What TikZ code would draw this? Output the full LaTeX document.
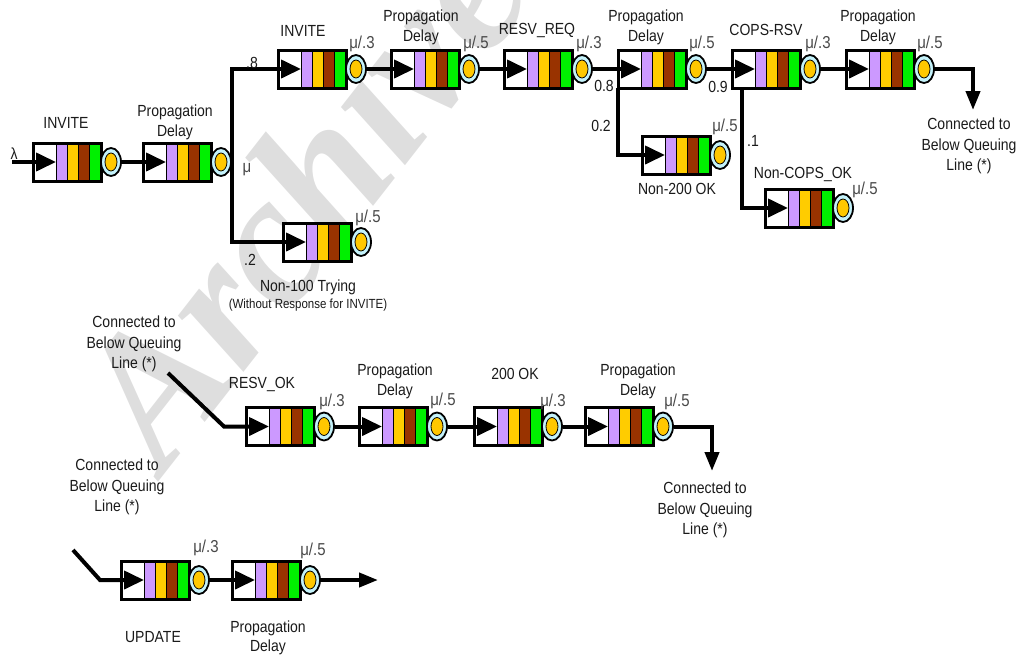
\documentclass[tikz,border=0pt]{standalone}
\usepackage{fontspec}
\setmainfont{Liberation Sans}
\newfontfamily\wmfont{Liberation Serif}
\usetikzlibrary{arrows.meta,shapes.geometric}
\definecolor{qpurple}{HTML}{CC99FF}
\definecolor{qyellow}{HTML}{FFCC00}
\definecolor{qbrown}{HTML}{993300}
\definecolor{qgreen}{HTML}{00F000}
\definecolor{qcyan}{HTML}{C4F2FA}
\definecolor{qorange}{HTML}{FFC800}
\definecolor{wmgray}{HTML}{DEDEDE}
\definecolor{txt}{HTML}{1A1A1A}
\tikzset{
 qbox/.style={draw, line width=3pt, minimum width=68pt, minimum height=38pt, inner sep=0pt, outer sep=0pt, fill=white, anchor=west,
  path picture={
   \fill[qpurple] ([xshift=23pt]path picture bounding box.south west) rectangle ++(11pt,40pt);
   \fill[qyellow] ([xshift=34pt]path picture bounding box.south west) rectangle ++(11pt,40pt);
   \fill[qbrown] ([xshift=45pt]path picture bounding box.south west) rectangle ++(11.5pt,40pt);
   \fill[qgreen] ([xshift=56.5pt]path picture bounding box.south west) rectangle ++(12pt,40pt);
   \foreach \s in {23,34,45,56.5} \draw[line width=0.8pt] ([xshift=\s pt]path picture bounding box.south west) -- ++(0pt,40pt);
  }},
 srv/.style={ellipse, draw, line width=1.8pt, fill=qcyan, minimum width=20pt, minimum height=28pt, inner sep=0pt,
  path picture={\draw[line width=0.8pt, fill=qorange] (path picture bounding box.center) ellipse [x radius=6pt, y radius=9pt];}},
 conn/.style={line width=4pt, -{Triangle[length=20pt,width=18pt]}},
 outc/.style={line width=4pt, -{Triangle[length=19pt,width=14pt]}},
 plain/.style={line width=4pt},
 lbl/.style={font=\fontsize{14}{17}\selectfont, text=txt, align=center, inner sep=0pt, yscale=1.15, transform shape},
 conlbl/.style={font=\fontsize{14}{17.8}\selectfont, text=txt, align=center, inner sep=0pt, yscale=1.15, transform shape},
 mulbl/.style={font=\fontsize{15}{18}\selectfont, text=txt!80, inner sep=0pt, yscale=1.15, transform shape},
 smalltxt/.style={font=\fontsize{11.5}{14}\selectfont, text=txt, inner sep=0pt, yscale=1.15, transform shape},
 wmnode/.style={font={\wmfont\bfseries\itshape\fontsize{188}{190}\selectfont}, text=wmgray, inner sep=0pt},
}
\newcommand\qnode[3]{%
 \node[qbox] (#1) at (#2,#3) {};
 \node[srv] (#1s) at ([xshift=10pt]#1.east) {};
}
\begin{document}
\begin{tikzpicture}[x=1pt,y=-1pt]
\useasboundingbox (0,0) rectangle (1018,654);
% watermark
\node[wmnode, rotate=52, anchor=center] (wm) at (300,196) {Archive};

% queues
\qnode{q1}{33}{162}
\qnode{q2}{143}{162}
\qnode{q3}{278}{69}
\qnode{q4}{391}{69}
\qnode{q5}{504}{69}
\qnode{q6}{618}{69}
\qnode{q7}{642}{155}
\qnode{q8}{732}{69}
\qnode{q9}{846}{69}
\qnode{q10}{765}{208}
\qnode{q11}{283}{242}
\qnode{q12}{246}{426.5}
\qnode{q13}{359}{426.5}
\qnode{q14}{474}{426.5}
\qnode{q15}{585}{426.5}
\qnode{q16}{121}{580}
\qnode{q17}{232}{580}

% connectors
\coordinate (in0) at (12,162);
\draw[conn] (in0) -- ([xshift=23pt]q1.west);
\draw[conn] (q1s.east) -- ([xshift=23pt]q2.west);
\coordinate (j1) at (232,162);
\draw[plain] (q2s.east) -- (j1);
\draw[conn] (j1) |- ([xshift=23pt]q3.west);
\draw[conn] (j1) |- ([xshift=23pt]q11.west);
\draw[conn] (q3s.east) -- ([xshift=23pt]q4.west);
\draw[conn] (q4s.east) -- ([xshift=23pt]q5.west);
\draw[conn] (q5s.east) -- ([xshift=23pt]q6.west);
\draw[conn] (q6.south west) |- ([xshift=23pt]q7.west);
\draw[conn] (q6s.east) -- ([xshift=23pt]q8.west);
\draw[conn] ([xshift=9.5pt]q8.south west) |- ([xshift=23pt]q10.west);
\draw[conn] (q8s.east) -- ([xshift=23pt]q9.west);
\coordinate (out1) at (973,110);
\draw[outc] (q9s.east) -| (out1);

\coordinate (c1) at (168,373);
\coordinate (c1b) at (224,426.5);
\draw[conn] (c1) -- (c1b) -- ([xshift=23pt]q12.west);
\draw[conn] (q12s.east) -- ([xshift=23pt]q13.west);
\draw[conn] (q13s.east) -- ([xshift=23pt]q14.west);
\draw[conn] (q14s.east) -- ([xshift=23pt]q15.west);
\coordinate (out2) at (712,471);
\draw[outc] (q15s.east) -| (out2);

\coordinate (c2) at (73,550);
\coordinate (c2b) at (100,580);
\draw[conn] (c2) -- (c2b) -- ([xshift=23pt]q16.west);
\draw[conn] (q16s.east) -- ([xshift=23pt]q17.west);
\coordinate (out3) at (378,580);
\draw[outc] (q17s.east) -- (out3);

% labels
\node[lbl] (lam) at (14,154) {λ};
\node[lbl] (l1) at (66,123) {INVITE};
\node[lbl] (l2) at (175,122.5) {Propagation\\Delay};
\node[mulbl] (m2) at (247,170) {μ};
\node[lbl] (p8) at (252,63) {.8};
\node[lbl] (l3) at (303,31) {INVITE};
\node[mulbl] (m3) at (362,44) {μ/.3};
\node[lbl] (l4) at (421,27.5) {Propagation\\Delay};
\node[mulbl] (m4) at (476,44) {μ/.5};
\node[lbl] (l5) at (537,30) {RESV\_REQ};
\node[mulbl] (m5) at (589,44) {μ/.3};
\node[lbl] (l6) at (646,27.5) {Propagation\\Delay};
\node[mulbl] (m6) at (702,44) {μ/.5};
\node[lbl] (p08) at (604,86) {0.8};
\node[lbl] (p02) at (601,126) {0.2};
\node[mulbl] (m7) at (725,127) {μ/.5};
\node[lbl] (l7) at (677,189) {Non-200 OK};
\node[lbl] (p09) at (718,87) {0.9};
\node[lbl] (p01) at (753,141) {.1};
\node[lbl] (l8) at (766,30) {COPS-RSV};
\node[mulbl] (m8) at (818,44) {μ/.3};
\node[lbl] (l9) at (878,27.5) {Propagation\\Delay};
\node[mulbl] (m9) at (930,44) {μ/.5};
\node[conlbl] (o1) at (969,146) {Connected to\\Below Queuing\\Line (*)};
\node[lbl] (l10) at (803,174) {Non-COPS\_OK};
\node[mulbl] (m10) at (865,190) {μ/.5};
\node[lbl] (l11) at (308,287) {Non-100 Trying};
\node[smalltxt] (l11b) at (308,305) {(Without Response for INVITE)};
\node[mulbl] (m11) at (368,218) {μ/.5};
\node[lbl] (p2) at (250,260) {.2};

\node[conlbl] (cl1) at (134,344) {Connected to\\Below Queuing\\Line (*)};
\node[lbl] (l12) at (262,384) {RESV\_OK};
\node[mulbl] (m12) at (332,402) {μ/.3};
\node[lbl] (l13) at (395,381.5) {Propagation\\Delay};
\node[mulbl] (m13) at (443,401) {μ/.5};
\node[lbl] (l14) at (515,374) {200 OK};
\node[mulbl] (m14) at (553,402) {μ/.3};
\node[lbl] (l15) at (638,381.5) {Propagation\\Delay};
\node[mulbl] (m15) at (677,402) {μ/.5};
\node[conlbl] (o2) at (705,510) {Connected to\\Below Queuing\\Line (*)};
\node[conlbl] (cl2) at (117,487) {Connected to\\Below Queuing\\Line (*)};
\node[mulbl] (m16) at (206,548) {μ/.3};
\node[mulbl] (m17) at (313,551) {μ/.5};
\node[lbl] (l16) at (153,637) {UPDATE};
\node[lbl] (l17) at (268,638) {Propagation\\Delay};
\end{tikzpicture}
\end{document}
